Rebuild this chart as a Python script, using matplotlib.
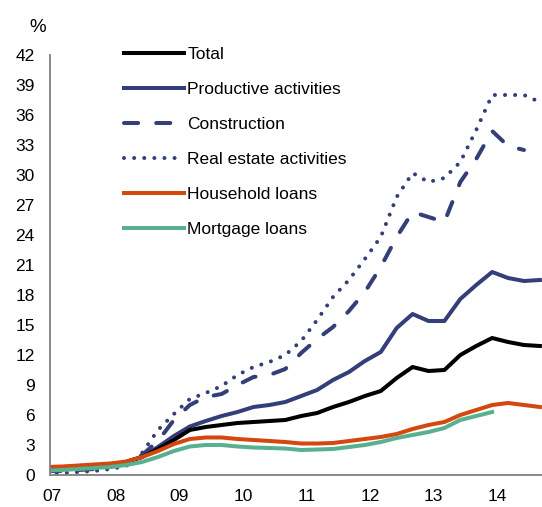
import numpy as np
import matplotlib
matplotlib.use("Agg")
import matplotlib.pyplot as plt

plt.rcParams['font.family'] = ['Liberation Sans', 'DejaVu Sans']

# quarterly data, Dec 2006 .. Sep 2014
quarters = np.arange(32)
t = 2006 + 11 / 12 + quarters / 4

total = [0.5, 0.6, 0.7, 0.8, 1.0, 1.3, 1.8, 2.6, 3.5, 4.5, 4.8, 5.0, 5.2, 5.3, 5.4, 5.5,
         5.9, 6.2, 6.8, 7.3, 7.9, 8.4, 9.7, 10.8, 10.4, 10.5, 12.0, 12.9, 13.7, 13.3, 13.0, 12.9]
productive = [0.6, 0.65, 0.75, 0.85, 1.0, 1.3, 1.8, 2.8, 3.9, 4.85, 5.4, 5.9, 6.3, 6.8, 7.0, 7.3,
              7.9, 8.5, 9.5, 10.3, 11.4, 12.3, 14.7, 16.1, 15.4, 15.4, 17.6, 19.0, 20.3, 19.7, 19.4, 19.5]
construction = [0.4, 0.4, 0.5, 0.6, 0.8, 1.2, 2.0, 3.4, 5.5, 7.0, 7.8, 8.1, 9.0, 9.8, 10.0, 10.6,
                12.2, 13.6, 14.8, 16.4, 18.3, 20.8, 23.8, 26.3, 25.8, 25.3, 29.3, 31.6, 34.4, 32.9, 32.5]
real_estate = [0.2, 0.2, 0.3, 0.4, 0.6, 0.9, 2.2, 4.5, 6.1, 7.6, 8.2, 8.9, 10.0, 10.8, 11.3, 12.0,
               13.4, 15.5, 17.8, 19.5, 21.6, 23.8, 27.8, 30.2, 29.3, 29.7, 31.3, 34.5, 38.0, 38.0, 38.0, 37.3]
household = [0.8, 0.85, 0.95, 1.05, 1.15, 1.35, 1.8, 2.4, 3.1, 3.6, 3.75, 3.75, 3.6, 3.5, 3.4, 3.3,
             3.15, 3.15, 3.2, 3.4, 3.6, 3.8, 4.1, 4.6, 5.0, 5.3, 6.0, 6.5, 7.0, 7.2, 7.0, 6.8]
mortgage = [0.45, 0.5, 0.6, 0.7, 0.8, 1.0, 1.3, 1.8, 2.4, 2.85, 3.0, 3.0, 2.85, 2.75, 2.7, 2.65,
            2.5, 2.55, 2.6, 2.8, 3.0, 3.3, 3.7, 4.0, 4.3, 4.7, 5.5, 5.9, 6.3]

year_ticks = list(range(2007, 2015))
year_labels = ['07', '08', '09', '10', '11', '12', '13', '14']

navy = '#343e78'
fig = plt.figure(figsize=(5.42, 5.07), dpi=100)
ax = fig.add_axes([50 / 542, 32 / 507, 492 / 542, 420 / 507])

lw = 2.9
ln_re, = ax.plot(t[:len(real_estate)], real_estate, color=navy, lw=lw, label='Real estate activities',
                 dash_capstyle='round', solid_capstyle='round')
ln_re.set_dashes((0.01, 2.5))
ln_con, = ax.plot(t[:len(construction)], construction, color=navy, lw=lw, label='Construction',
                  dash_capstyle='round')
ln_con.set_dashes((3.5, 4.5))
ln_prod, = ax.plot(t, productive, color=navy, lw=lw, label='Productive activities')
ln_tot, = ax.plot(t, total, color='black', lw=lw, label='Total')
ln_hh, = ax.plot(t, household, color='#d4470f', lw=lw, label='Household loans')
ln_mort, = ax.plot(t[:len(mortgage)], mortgage, color='#59b08f', lw=lw, label='Mortgage loans')

ax.set_xlim(2006.97, 2014.70)
ax.set_ylim(0, 42)
ax.set_yticks(np.arange(0, 43, 3))
ax.set_xticks(year_ticks)
ax.set_xticklabels(year_labels)
ax.tick_params(length=0, labelsize=12.5)
ax.tick_params(axis='y', pad=11)
ax.tick_params(axis='x', pad=10)
for s in ['top', 'right']:
    ax.spines[s].set_visible(False)
for s in ['left', 'bottom']:
    ax.spines[s].set_color('#808080')
    ax.spines[s].set_linewidth(1.3)

fig.text(38 / 542, 1 - 27 / 507, '%', fontsize=13.5, ha='center', va='center')

handles = [ln_tot, ln_prod, ln_con, ln_re, ln_hh, ln_mort]
ax.legend(handles=handles, labels=[h.get_label() for h in handles], frameon=False,
          loc='upper left', bbox_to_anchor=(124 / 542, 1 - 47 / 507), bbox_transform=fig.transFigure,
          fontsize=12.5, handlelength=3.45, handletextpad=0.2, labelspacing=1.14,
          borderpad=0, borderaxespad=0)

fig.savefig('out.png', dpi=100)
